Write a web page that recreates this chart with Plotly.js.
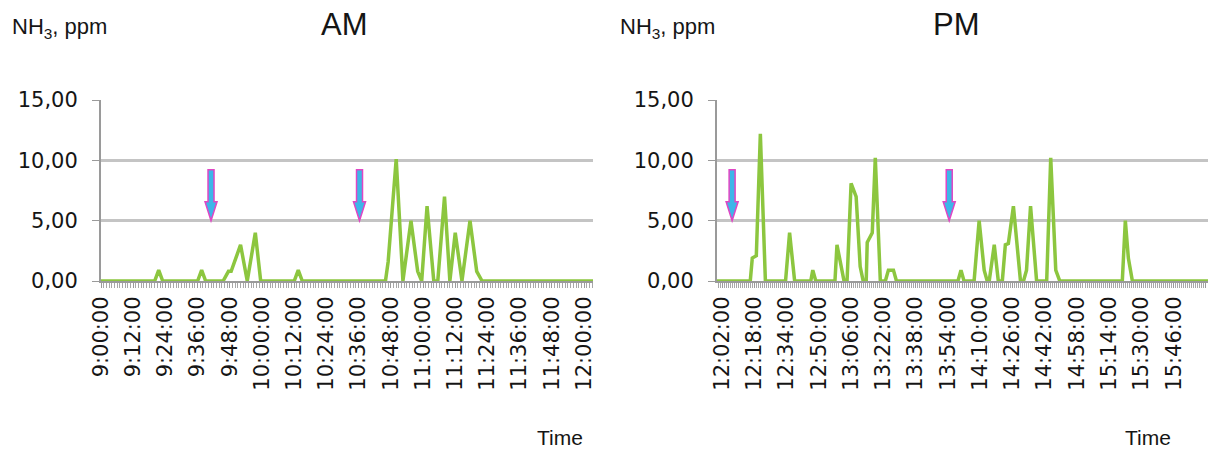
<!DOCTYPE html>
<html><head><meta charset="utf-8">
<script src="https://cdn.plot.ly/plotly-3.0.1.min.js"></script>
<style>html,body{margin:0;padding:0;background:#fff}#chart{width:1208px;height:449px}</style>
</head><body><div id="chart"></div>
<script>
// ---- data (time of reading, NH3 ppm) ----
const amTime = ['9:00:00','9:20:00','9:21:30','9:23:00','9:36:00','9:37:30','9:39:00','9:45:30','9:47:30','9:48:30','9:52:00','9:54:30','9:57:30','9:59:30','10:12:00','10:13:30','10:15:00','10:46:00','10:47:00','10:50:00','10:52:30','10:55:30','10:58:00','10:59:30','11:01:30','11:04:00','11:05:30','11:08:00','11:10:00','11:12:00','11:14:30','11:17:30','11:20:00','11:22:00','12:03:30'];
const amNH3  = [0,0,0.9,0,0,0.9,0,0,0.8,0.8,3.0,0,4.0,0,0,0.9,0,0,1.6,10.1,0,5.0,0.8,0,6.2,0,0,7.0,0,4.0,0,5.0,0.8,0,0];

const pmTime = ['11:59:30','12:16:00','12:17:00','12:19:00','12:21:00','12:23:30','12:33:30','12:35:30','12:38:00','12:46:00','12:47:00','12:48:30','12:58:00','12:59:00','13:02:30','13:04:00','13:06:00','13:08:30','13:10:30','13:12:00','13:13:30','13:14:00','13:16:30','13:18:00','13:20:30','13:23:00','13:24:30','13:27:00','13:28:30','13:59:00','14:00:30','14:02:00','14:07:00','14:09:30','14:12:00','14:13:30','14:14:30','14:17:00','14:19:00','14:21:00','14:22:30','14:24:00','14:26:30','14:30:00','14:31:30','14:33:00','14:35:00','14:38:00','14:43:00','14:45:00','14:47:30','14:49:30','15:20:30','15:22:00','15:23:30','15:25:30','16:03:00'];
const pmNH3  = [0,0,1.9,2.1,12.2,0,0,4.0,0,0,0.9,0,0,3.0,0,0,8.1,7.0,1.2,0,0,3.2,4.0,10.2,0,0,0.9,0.9,0,0,0.9,0,0,5.0,0.9,0,0,3.0,0,0,3.0,3.1,6.2,0,0,0.9,6.2,0,0,10.2,0.9,0,0,5.0,1.9,0,0];

// arrows marking events
const amArrowTime = ['9:41:00','10:36:20'];
const pmArrowTime = ['12:07:00','13:54:40'];
const arrowTipValue = 5.0;

// tick labels
const amTickStart = '9:00:00', amTickStepMin = 12;
const pmTickStart = '12:02:00', pmTickStepMin = 16;
const yTicks = [0, 5, 10, 15];

// ---- helpers ----
const toDate = t => { const p = t.split(':'); return '2000-01-01 ' + p[0].padStart(2,'0') + ':' + p[1] + ':' + (p[2] || '00'); };
const W = 1208, H = 449, TOP = 100, BOT = 281;
const px2x = px => px / W;
const px2y = py => (BOT - py) / (BOT - TOP);

const green = '#8cc63f';
const grey = '#9a9a9a';
const tickFont = {family: 'DejaVu Sans, Verdana, sans-serif', size: 21, color: '#151515'};

const traces = [
  {x: amTime.map(toDate), y: amNH3, type: 'scatter', mode: 'lines', line: {color: green, width: 3.5}, xaxis: 'x', yaxis: 'y', hoverinfo: 'skip'},
  {x: pmTime.map(toDate), y: pmNH3, type: 'scatter', mode: 'lines', line: {color: green, width: 3.5}, xaxis: 'x2', yaxis: 'y2', hoverinfo: 'skip'}
];

function xAxis(domain, range, tickStart, stepMin) {
  return {
    type: 'date', domain: domain, range: range.map(toDate),
    tick0: toDate(tickStart), dtick: stepMin * 60000, tickformat: '%-H:%M:%S',
    tickangle: -90, tickfont: tickFont, ticks: 'outside', ticklen: 5, tickcolor: grey,
    showline: true, linecolor: grey, linewidth: 2, showgrid: false, zeroline: false,
    minor: {dtick: 60000, ticks: 'outside', ticklen: 5, tickcolor: '#a8a8a8', tickwidth: 1, showgrid: false},
    automargin: false, fixedrange: true
  };
}
function yAxis(anchor) {
  return {
    anchor: anchor, range: [0, 15], tickvals: yTicks, tickformat: '.2f',
    showgrid: true, gridcolor: '#c4c4c4', gridwidth: 2.5, zeroline: false,
    showline: true, linecolor: grey, linewidth: 2, ticks: 'outside', ticklen: 7, tickcolor: grey,
    tickfont: tickFont, ticklabelstandoff: 10, automargin: false, fixedrange: true
  };
}

const arrowPath = 'M0,0 L-6,19 L-3,19 L-3,51 L3,51 L3,19 L6,19 Z';
const shapes = [];
amArrowTime.forEach(t => shapes.push({type: 'path', xref: 'x', yref: 'y', xsizemode: 'pixel', ysizemode: 'pixel', xanchor: toDate(t), yanchor: arrowTipValue, path: arrowPath, fillcolor: '#3db6e8', line: {color: '#e046c4', width: 1.5}, layer: 'above'}));
pmArrowTime.forEach(t => shapes.push({type: 'path', xref: 'x2', yref: 'y2', xsizemode: 'pixel', ysizemode: 'pixel', xanchor: toDate(t), yanchor: arrowTipValue, path: arrowPath, fillcolor: '#3db6e8', line: {color: '#e046c4', width: 1.5}, layer: 'above'}));

const txt = (text, xpx, ypx, size, anchor) => ({text: text, xref: 'paper', yref: 'paper', x: px2x(xpx), y: px2y(ypx), xanchor: anchor, yanchor: 'middle', showarrow: false, font: {family: 'Liberation Sans, Arial, sans-serif', size: size, color: '#151515'}});

const layout = {
  width: W, height: H, margin: {l: 0, r: 0, t: TOP, b: H - BOT, pad: 0},
  paper_bgcolor: '#fff', plot_bgcolor: '#fff', showlegend: false, separators: ', ',
  xaxis: xAxis([px2x(101), px2x(593)], ['9:00:00', '12:03:20'], amTickStart, amTickStepMin),
  yaxis: yAxis('x'),
  xaxis2: xAxis([px2x(717), 1], ['11:59:30', '16:03:00'], pmTickStart, pmTickStepMin),
  yaxis2: yAxis('x2'),
  shapes: shapes,
  annotations: [
    txt('NH<sub>3</sub>, ppm', 10, 28, 22, 'left'),
    txt('NH<sub>3</sub>, ppm', 618, 28, 22, 'left'),
    txt('AM', 344, 24, 31, 'center'),
    txt('PM', 956, 24, 31, 'center'),
    txt('Time', 560, 437, 21, 'center'),
    txt('Time', 1148, 437, 21, 'center')
  ]
};

Plotly.newPlot('chart', traces, layout, {staticPlot: true, displayModeBar: false});
</script></body></html>
